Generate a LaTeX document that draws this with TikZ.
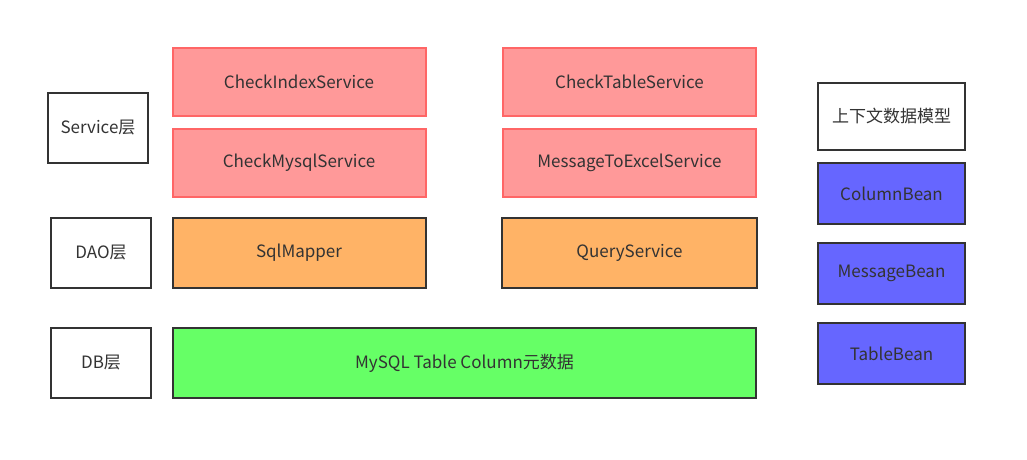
\documentclass[tikz,border=0pt]{standalone}
\usepackage{fontspec}
\setmainfont{Noto Sans CJK SC}
\definecolor{txt}{HTML}{333333}
\definecolor{redfill}{HTML}{FF9999}
\definecolor{redline}{HTML}{FF6666}
\definecolor{orangefill}{HTML}{FFB366}
\definecolor{greenfill}{HTML}{66FF66}
\definecolor{bluefill}{HTML}{6666FF}
\begin{document}
\begin{tikzpicture}[x=1pt,y=-1pt,
  box/.style={draw=txt,line width=2pt,text=txt,font=\fontsize{17}{20}\selectfont,inner sep=0pt},
  svc/.style={box,draw=redline,fill=redfill},
  dao/.style={box,fill=orangefill},
  db/.style={box,fill=greenfill},
  bean/.style={box,fill=bluefill},
  layer/.style={box,fill=white}]
\useasboundingbox (0,0) rectangle (1027,460);
\fill[white] (0,0) rectangle (1027,460);
\node[layer,minimum width=100,minimum height=70] (svclayer) at (98,127.5) {Service层};
\node[layer,minimum width=100,minimum height=70] (daolayer) at (101,253) {DAO层};
\node[layer,minimum width=100,minimum height=70] (dblayer) at (101,363) {DB层};
\node[svc,minimum width=253,minimum height=68] (checkindex) at (299,82) {CheckIndexService};
\node[svc,minimum width=253,minimum height=68] (checkmysql) at (299,163) {CheckMysqlService};
\node[svc,minimum width=253,minimum height=68] (checktable) at (629.5,82) {CheckTableService};
\node[svc,minimum width=253,minimum height=68] (msgexcel) at (629.5,163) {MessageToExcelService};
\node[dao,minimum width=253,minimum height=70] (sqlmapper) at (299,253) {SqlMapper};
\node[dao,minimum width=255,minimum height=70] (query) at (629.5,253) {QueryService};
\node[db,minimum width=583,minimum height=70] (mysql) at (464.5,363) {MySQL Table Column元数据};
\node[layer,minimum width=147,minimum height=67] (ctx) at (891.5,116.5) {上下文数据模型};
\node[bean,minimum width=147,minimum height=61] (colbean) at (891.5,193.5) {ColumnBean};
\node[bean,minimum width=147,minimum height=61] (msgbean) at (891.5,273.5) {MessageBean};
\node[bean,minimum width=147,minimum height=61] (tblbean) at (891.5,353.5) {TableBean};
\end{tikzpicture}
\end{document}
